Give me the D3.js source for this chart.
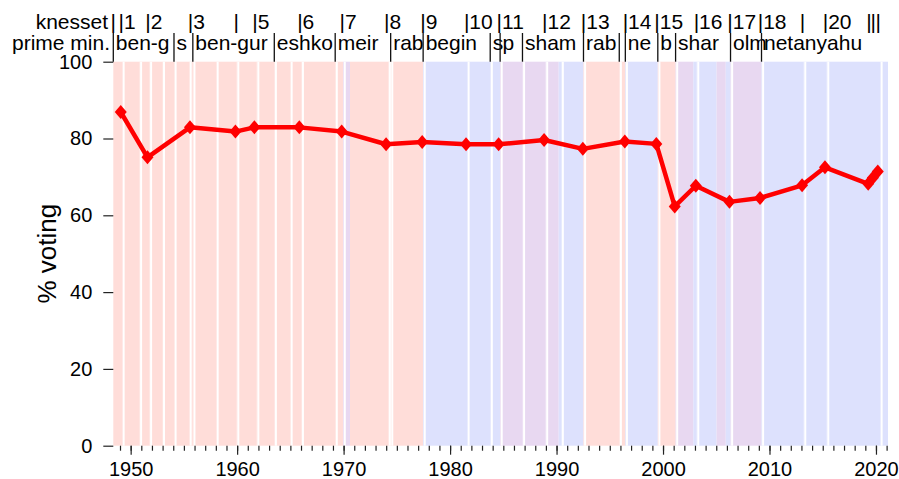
<!DOCTYPE html>
<html>
<head>
<meta charset="utf-8">
<script src="https://cdn.jsdelivr.net/npm/d3@7"></script>
<style>
  body { margin: 0; background: #fff; }
  svg { display: block; font-family: "Liberation Sans", Arial, sans-serif; }
  .tick line { stroke: #222; stroke-width: 1.2; }
</style>
</head>
<body>
<svg id="chart" width="899" height="479"></svg>
<script>
// election turnout
const electionYear = [1949.07, 1951.58, 1955.57, 1959.84, 1961.62, 1965.84, 1969.82, 1973.99, 1977.38,
  1981.5, 1984.56, 1988.83, 1992.47, 1996.41, 1999.37, 2001.1, 2003.08, 2006.24, 2009.11,
  2013.06, 2015.21, 2019.27, 2019.71, 2020.17];
const turnout = [86.9, 75.1, 82.9, 81.8, 82.9, 82.9, 81.8, 78.5, 79.1,
  78.5, 78.5, 79.6, 77.3, 79.2, 78.6, 62.3, 67.7, 63.5, 64.5,
  67.8, 72.5, 68.2, 69.8, 71.4];

// coalition bands: r = labour-led, b = likud-led, p = unity
const bandStart = [1948.37, 1949.19, 1950.83, 1951.77, 1952.98, 1954.07, 1955.49, 1955.84, 1958.02,
  1959.96, 1961.84, 1963.49, 1964.97, 1966.03, 1969.21, 1969.96, 1970.6, 1974.19, 1974.42,
  1977.47, 1981.59, 1983.77, 1984.70, 1986.80, 1988.97, 1990.20, 1990.44, 1992.53, 1995.89,
  1996.46, 1999.51, 2001.18, 2002.84, 2003.16, 2005.03, 2005.89, 2006.34, 2009.25, 2013.21,
  2015.37, 2020.38];
const bandEnd = [1949.19, 1950.83, 1951.77, 1952.98, 1954.07, 1955.49, 1955.84, 1958.02, 1959.96,
  1961.84, 1963.49, 1964.97, 1966.03, 1969.21, 1969.96, 1970.6, 1974.19, 1974.42, 1977.47,
  1981.59, 1983.77, 1984.70, 1986.80, 1988.97, 1990.20, 1990.44, 1992.53, 1995.89, 1996.46,
  1999.51, 2001.18, 2002.84, 2003.16, 2005.03, 2005.89, 2006.34, 2009.25, 2013.21, 2015.37,
  2020.38, 2021.13];
const bandType = ["r", "r", "r", "r", "r", "r", "r", "r", "r",
  "r", "r", "r", "r", "r", "r", "p", "r", "r", "r",
  "b", "b", "b", "p", "p", "p", "b", "b", "r", "r",
  "b", "r", "p", "b", "b", "p", "b", "p", "b", "b",
  "b", "b"];
// government changes (white separators)
const govChange = [1949.19, 1950.83, 1951.77, 1952.98, 1954.07, 1955.49, 1955.84, 1958.02, 1959.96,
  1961.84, 1963.49, 1964.97, 1966.03, 1969.21, 1969.96, 1974.19, 1974.42, 1977.47, 1981.59,
  1983.77, 1984.70, 1986.80, 1988.97, 1990.44, 1992.53, 1995.89, 1996.46, 1999.51, 2001.18,
  2003.16, 2006.34, 2009.25, 2013.21, 2015.37, 2020.38];

const knessetStart = [1948.37, 1949.12, 1951.63, 1955.62, 1959.91, 1961.67, 1965.89, 1969.88, 1974.05,
  1977.45, 1981.55, 1984.62, 1988.89, 1992.53, 1996.46, 1999.43, 2003.13, 2006.29, 2009.15,
  2013.10, 2015.25, 2019.33, 2019.75, 2020.21];
const knessetLabel = ["", "1", "2", "3", "", "5", "6", "7", "8",
  "9", "10", "11", "12", "13", "14", "15", "16", "17", "18",
  "", "20", "", "", ""];

const pmStart = [1948.37, 1954.07, 1955.84, 1963.49, 1969.21, 1974.42, 1977.47, 1983.77, 1984.70,
  1986.80, 1992.53, 1995.89, 1996.46, 1999.51, 2001.18, 2006.34, 2009.25];
const pmLabel = ["ben-g", "s", "ben-gur", "eshko", "meir", "rab", "begin", "s", "p",
  "sham", "rab", "", "ne", "b", "shar", "olm", "netanyahu"];

const yTicks = [0, 20, 40, 60, 80, 100];
const xTicks = [1950, 1960, 1970, 1980, 1990, 2000, 2010, 2020];

const bandColor = { r: "#ffddd9", b: "#dde1fd", p: "#e8d8f1" };

const svg = d3.select("#chart");
const x = d3.scaleLinear().domain([1948.37, 2021.13]).range([113.3, 888]);
const y = d3.scaleLinear().domain([0, 100]).range([445.7, 61.7]);

// bands
svg.append("g")
  .selectAll("rect")
  .data(bandStart.map((s, i) => ({ s, e: bandEnd[i], t: bandType[i] })))
  .enter()
  .append("rect")
  .attr("x", (d) => x(d.s))
  .attr("width", (d) => x(d.e) - x(d.s))
  .attr("y", y(100))
  .attr("height", y(0) - y(100))
  .attr("fill", (d) => bandColor[d.t]);

svg.append("g")
  .selectAll("rect")
  .data(govChange)
  .enter()
  .append("rect")
  .attr("x", (d) => x(d) + 0.6)
  .attr("width", 2)
  .attr("y", y(100))
  .attr("height", y(0) - y(100))
  .attr("fill", "#fff");

// axes
const yAxis = svg.append("g")
  .attr("transform", `translate(${x.range()[0]},0)`)
  .call(d3.axisLeft(y).tickValues(yTicks).tickSize(10).tickPadding(11));
yAxis.select(".domain").remove();
yAxis.selectAll("text").attr("font-size", 20).attr("fill", "#000");

const years = d3.range(1949, 2022);
const minorAxis = svg.append("g")
  .attr("transform", `translate(0,${y(0)})`)
  .call(d3.axisBottom(x).tickValues(years).tickSize(5).tickFormat(""));
minorAxis.select(".domain").remove();

const xAxis = svg.append("g")
  .attr("transform", `translate(0,${y(0)})`)
  .call(d3.axisBottom(x).tickValues(xTicks).tickSize(9).tickPadding(7).tickFormat(d3.format("d")));
xAxis.select(".domain").remove();
xAxis.selectAll("text").attr("font-size", 20).attr("fill", "#000");

svg.append("text")
  .attr("transform", `translate(56,${(y(0) + y(100)) / 2}) rotate(-90)`)
  .attr("text-anchor", "middle")
  .attr("font-size", 26)
  .text("% voting");

// header rows
svg.append("text").attr("x", 108).attr("y", 29).attr("text-anchor", "end")
  .attr("font-size", 21).text("knesset");
svg.append("text").attr("x", 110).attr("y", 50).attr("text-anchor", "end")
  .attr("font-size", 21).text("prime min.");

svg.append("g")
  .selectAll("text")
  .data(knessetStart.map((d, i) => ({ d, l: knessetLabel[i] })))
  .enter()
  .append("text")
  .attr("x", (k) => x(k.d) - 2.7)
  .attr("y", 29)
  .attr("font-size", 21)
  .text((k) => "|" + k.l);

const pm = svg.append("g")
  .selectAll("g")
  .data(pmStart.map((d, i) => ({ d, l: pmLabel[i] })))
  .enter()
  .append("g");
pm.append("line")
  .attr("x1", (p) => x(p.d)).attr("x2", (p) => x(p.d))
  .attr("y1", 33).attr("y2", y(100))
  .attr("stroke", "#111").attr("stroke-width", 1.3);
pm.append("text")
  .attr("x", (p) => x(p.d) + 2.5)
  .attr("y", 50)
  .attr("font-size", 21)
  .text((p) => p.l);

// turnout line
const pts = electionYear.map((d, i) => [d, turnout[i]]);
svg.append("path")
  .datum(pts)
  .attr("fill", "none")
  .attr("stroke", "#ff0000")
  .attr("stroke-width", 4.5)
  .attr("stroke-linejoin", "round")
  .attr("d", d3.line().x((d) => x(d[0])).y((d) => y(d[1])));

svg.append("g")
  .selectAll("path")
  .data(pts)
  .enter()
  .append("path")
  .attr("transform", (d) => `translate(${x(d[0])},${y(d[1])})`)
  .attr("d", "M0,-7L6,0L0,7L-6,0Z")
  .attr("fill", "#ff0000");
</script>
</body>
</html>
